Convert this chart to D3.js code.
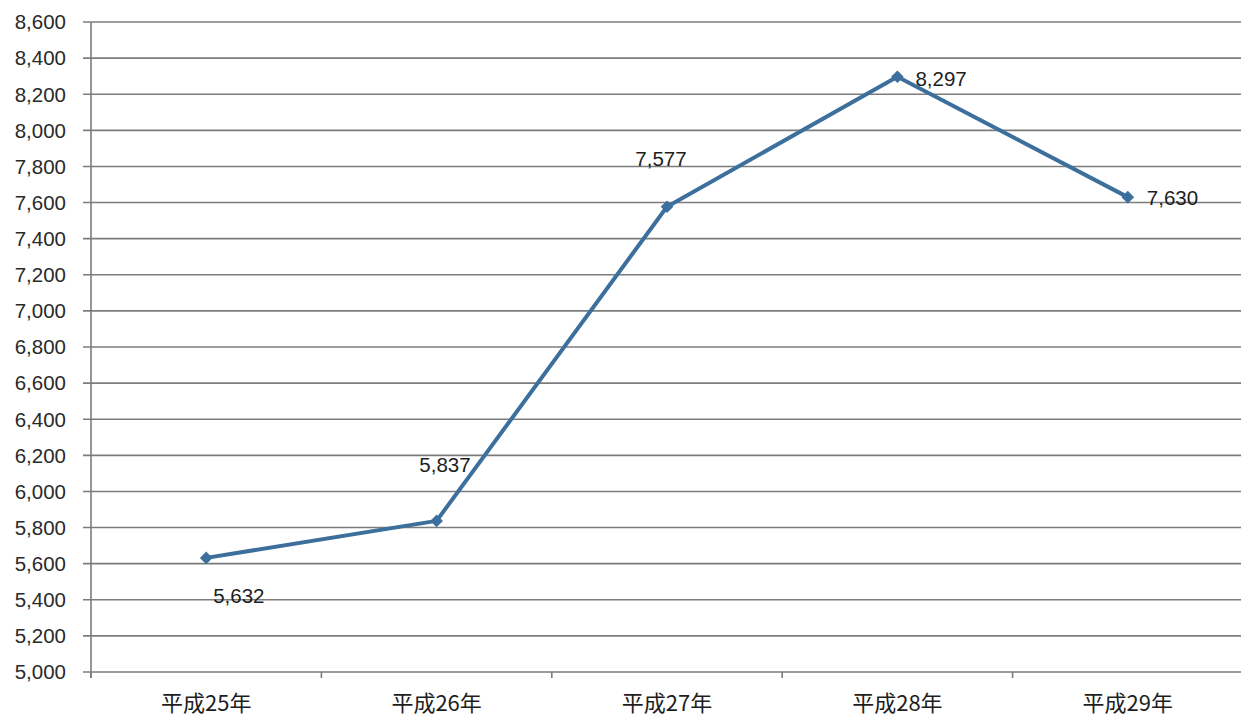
<!DOCTYPE html>
<html>
<head>
<meta charset="utf-8">
<script src="https://cdn.jsdelivr.net/npm/d3@7"></script>
<style>
  body { margin: 0; background: #fff; }
  svg { display: block; }
</style>
</head>
<body>
<svg id="chart"></svg>
<script>
// years on the x axis
const categories = ['平成25年', '平成26年', '平成27年', '平成28年', '平成29年'];
// series values
const values = [5632, 5837, 7577, 8297, 7630];
// y tick values
const yTicks = d3.range(5000, 8601, 200);

// label offsets from each point (dx, dy, anchor)
const labelPos = [
    [7, 45, 'start'],
    [34, -49, 'end'],
    [-6, -41, 'middle'],
    [18, 9, 'start'],
    [19, 8, 'start']
];

const width = 1241, height = 716;
const margin = { left: 91, right: -2, top: 22, bottom: 44 };

const svg = d3.select('#chart')
    .attr('width', width)
    .attr('height', height);

const x = d3.scaleBand()
    .domain(categories)
    .range([margin.left, width - margin.right]);

const y = d3.scaleLinear()
    .domain([5000, 8600])
    .range([height - margin.bottom, margin.top]);

const gridColor = '#7c7c7c';
const numFont = '"Liberation Sans", Arial, sans-serif';

// horizontal gridlines + y ticks
svg.append('g')
    .selectAll('line')
    .data(yTicks)
    .enter().append('line')
    .attr('x1', margin.left - 8)
    .attr('x2', width - margin.right)
    .attr('y1', d => y(d))
    .attr('y2', d => y(d))
    .attr('stroke', gridColor)
    .attr('stroke-width', 1.6);

// y tick labels
svg.append('g')
    .selectAll('text')
    .data(yTicks)
    .enter().append('text')
    .attr('x', 66)
    .attr('y', d => y(d))
    .attr('dy', '0.36em')
    .attr('text-anchor', 'end')
    .style('font-family', numFont)
    .style('font-size', '20.5px')
    .style('fill', '#2a2a2a')
    .text(d3.format(','));

// y axis line
svg.append('line')
    .attr('x1', margin.left).attr('x2', margin.left)
    .attr('y1', y(8600)).attr('y2', y(5000) + 6)
    .attr('stroke', gridColor)
    .attr('stroke-width', 1.6);

// x axis ticks at category boundaries
const bounds = categories.map(c => x(c)).concat([x(categories[categories.length - 1]) + x.bandwidth()]);
svg.append('g')
    .selectAll('line')
    .data(bounds)
    .enter().append('line')
    .attr('x1', d => d).attr('x2', d => d)
    .attr('y1', y(5000)).attr('y2', y(5000) + 6)
    .attr('stroke', gridColor)
    .attr('stroke-width', 1.6);

// category labels
svg.append('g')
    .selectAll('text')
    .data(categories)
    .enter().append('text')
    .attr('x', d => x(d) + x.bandwidth() / 2)
    .attr('y', 711)
    .attr('text-anchor', 'middle')
    .style('font-family', '"Noto Sans CJK JP", sans-serif')
    .style('font-size', '22px')
    .style('fill', '#1e1e1e')
    .text(d => d);

const pts = values.map((v, i) => ({ v, cx: x(categories[i]) + x.bandwidth() / 2, cy: y(v), i }));

// the line
svg.append('path')
    .datum(pts)
    .attr('fill', 'none')
    .attr('stroke', '#3d6f9c')
    .attr('stroke-width', 4)
    .attr('stroke-linejoin', 'round')
    .attr('d', d3.line().x(d => d.cx).y(d => d.cy));

// diamond markers
svg.append('g')
    .selectAll('path')
    .data(pts)
    .enter().append('path')
    .attr('transform', d => `translate(${d.cx},${d.cy}) rotate(45)`)
    .attr('d', d3.symbol().type(d3.symbolSquare).size(80))
    .attr('fill', '#3d6f9c');

// data labels
svg.append('g')
    .selectAll('text')
    .data(pts)
    .enter().append('text')
    .attr('x', d => d.cx + labelPos[d.i][0])
    .attr('y', d => d.cy + labelPos[d.i][1])
    .attr('text-anchor', d => labelPos[d.i][2])
    .style('font-family', numFont)
    .style('font-size', '20.5px')
    .style('fill', '#1e1e1e')
    .text(d => d3.format(',')(d.v));
</script>
</body>
</html>
